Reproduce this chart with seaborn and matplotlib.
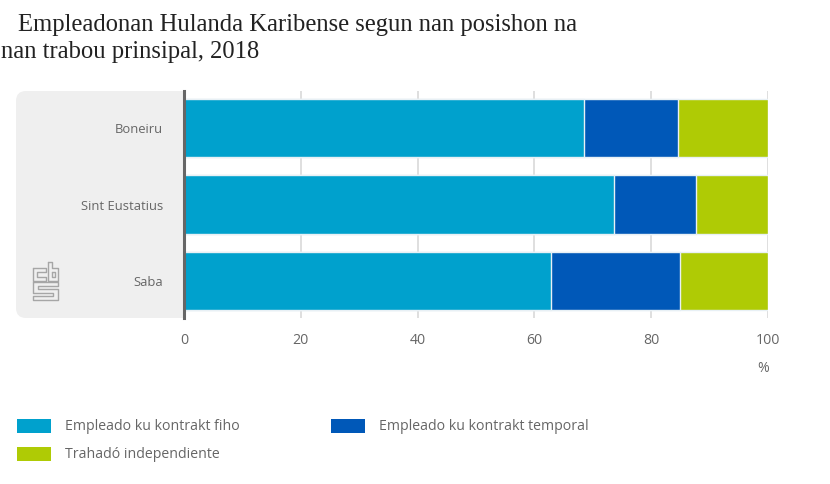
"""
Empleadonan Hulanda Karibense segun posishon - stacked horizontal bars
"""

import numpy as np
import pandas as pd
import matplotlib
matplotlib.use("Agg")
import matplotlib.pyplot as plt
from matplotlib.lines import Line2D
from matplotlib.patches import FancyBboxPatch, Rectangle
import seaborn as sns

# Data
ISLANDS = ["Boneiru", "Sint Eustatius", "Saba"]
FIHO = [68.5, 73.7, 62.8]
TEMPORAL = [16.1, 14.0, 22.1]
INDEPENDIENTE = [15.4, 12.3, 15.1]
SERIES = ["Empleado ku kontrakt fiho", "Empleado ku kontrakt temporal", "Trahadó independiente"]
COLORS = ["#00a1cd", "#0058b8", "#afcb05"]
XTICKS = [0, 20, 40, 60, 80, 100]

# Figure size in pixels
W, H = 830, 484
TEXT_COLOR = "#666666"


def px(x, y):
    """Pixel position (top-left origin) to figure fraction."""
    return x / W, 1 - y / H


sns.set_theme(style="white")
plt.rcParams["font.family"] = ["Open Sans", "DejaVu Sans"]

fig = plt.figure(figsize=(W / 100, H / 100), dpi=100)
ax = fig.add_axes([184 / W, 1 - 318 / H, (768 - 184) / W, (318 - 91) / H])
ax.patch.set_alpha(0)

# Grey panel behind the category labels
panel = FancyBboxPatch(
    (16 / W, 1 - 318 / H), 200 / W, (318 - 91) / H,
    boxstyle="round,pad=0,rounding_size=0.012", mutation_aspect=W / H,
    transform=fig.transFigure, facecolor="#efefef", edgecolor="none", zorder=-3,
)
fig.add_artist(panel)
fig.add_artist(Rectangle((184 / W, 1 - 318 / H), 40 / W, (318 - 91) / H,
                         transform=fig.transFigure, facecolor="white",
                         edgecolor="none", zorder=-2))

# Stacked bars: draw the cumulative totals from longest to shortest
table = pd.DataFrame({"island": ISLANDS, SERIES[0]: FIHO, SERIES[1]: TEMPORAL, SERIES[2]: INDEPENDIENTE})
totals = table[SERIES].cumsum(axis=1)
for name, color in reversed(list(zip(SERIES, COLORS))):
    sns.barplot(data=totals, x=name, y=table["island"], color=color, width=0.76,
                saturation=1, edgecolor="#e8f0f5", linewidth=1, ax=ax, zorder=3)

ax.set_xlim(0, 100)
ax.set_ylim(2.484, -0.484)
ax.set_xlabel("")
ax.set_ylabel("")
ax.set_xticks(XTICKS)
ax.xaxis.grid(True, color="#d9d9d9", linewidth=1.2)
ax.yaxis.grid(False)
ax.set_axisbelow(True)
ax.tick_params(axis="x", length=0, pad=11, labelsize=10.2, labelcolor=TEXT_COLOR)
ax.tick_params(axis="y", length=0, pad=15, labelsize=9.4, labelcolor=TEXT_COLOR)
for side in ["top", "right", "bottom"]:
    ax.spines[side].set_visible(False)
ax.spines["left"].set_color("#666666")
ax.spines["left"].set_linewidth(2.2)
ax.spines["left"].set_zorder(5)

fig.text(*px(763, 368), "%", color=TEXT_COLOR, fontsize=10.2, ha="center", va="center")

# Title
title_font = ["Liberation Serif", "DejaVu Serif"]
fig.text(*px(18, 25), "Empleadonan Hulanda Karibense segun nan posishon na",
         family=title_font, fontsize=17.7, color="#222222", va="center")
fig.text(*px(1, 52), "nan trabou prinsipal, 2018",
         family=title_font, fontsize=17.7, color="#222222", va="center")

# Legend
legend_pos = [(17, 426), (331, 426), (17, 454)]
for (lx, ly), name, color in zip(legend_pos, SERIES, COLORS):
    fig.add_artist(Rectangle(px(lx, ly + 7), 34 / W, 14 / H, transform=fig.transFigure,
                             facecolor=color, edgecolor="none"))
    fig.text(*px(lx + 48, ly), name, color=TEXT_COLOR, fontsize=10.2, va="center")

# cbs logo outlines
logo_paths = [
    [(33, 268), (46, 268), (46, 272), (37, 272), (37, 277), (46, 277), (46, 281), (33, 281), (33, 268)],
    [(48, 262), (52, 262), (52, 268), (58, 268), (58, 281), (48, 281), (48, 262)],
    [(52, 272), (55, 272), (55, 277), (52, 277), (52, 272)],
    [(33, 282), (58, 282), (58, 286), (38, 286), (38, 289), (58, 289), (58, 300), (33, 300),
     (33, 296), (53, 296), (53, 293), (33, 293), (33, 282)],
]
for path in logo_paths:
    xs, ys = zip(*[px(*p) for p in path])
    fig.add_artist(Line2D(xs, ys, color="#a6a6a6", linewidth=1.0, transform=fig.transFigure))

fig.savefig("out.png", dpi=100)
